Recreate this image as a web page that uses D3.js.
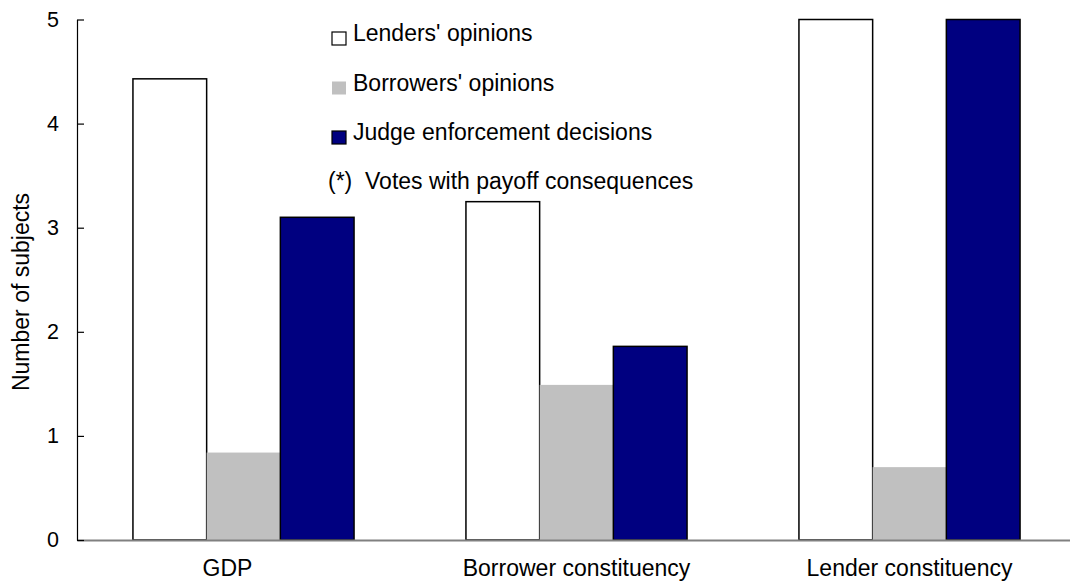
<!DOCTYPE html>
<html>
<head>
<meta charset="utf-8">
<script src="https://cdn.jsdelivr.net/npm/d3@7/dist/d3.min.js"></script>
<style>
  html, body { margin: 0; padding: 0; background: #fff; }
  svg { display: block; font-family: "Liberation Sans", Arial, sans-serif; }
</style>
</head>
<body>
<svg id="chart" width="1070" height="587"></svg>
<script>
// ---- data ----
const categories = ["GDP", "Borrower constituency", "Lender constituency"];
const categoryLabels = ["GDP\u00a0\u00a0\u00a0\u00a0\u00a0", "Borrower constituency", "Lender constituency"];
const seriesNames = ["Lenders' opinions", "Borrowers' opinions", "Judge enforcement decisions"];
const lendersOpinions = [4.43, 3.25, 5.0];
const borrowersOpinions = [0.84, 1.49, 0.70];
const judgeDecisions = [3.10, 1.86, 5.0];
const yTicks = [0, 1, 2, 3, 4, 5];
const noteText = "(*)  Votes with payoff consequences";
const yTitle = "Number of subjects";

const seriesValues = [lendersOpinions, borrowersOpinions, judgeDecisions];
const seriesFill = ["#ffffff", "#c0c0c0", "#000080"];
const seriesStroke = ["#000000", "none", "#000000"];

// ---- layout ----
const svg = d3.select("#chart");
const mLeft = 77, mRight = 1076, mTop = 19.5, mBottom = 540;
const fs = 23;

const x = d3.scaleBand().domain(categories).range([mLeft, mRight])
  .paddingInner(0.336).paddingOuter(0.168);
const xs = d3.scaleBand().domain(d3.range(seriesNames.length)).range([0, x.bandwidth()]).padding(0);
const y = d3.scaleLinear().domain([0, 5]).range([mBottom, mTop]);

// bars
const groups = svg.append("g").selectAll("g").data(categories).join("g")
  .attr("transform", d => `translate(${x(d)},0)`);
groups.selectAll("rect")
  .data((c, ci) => seriesValues.map((vals, si) => ({si, v: vals[ci]})))
  .join("rect")
  .attr("x", d => xs(d.si))
  .attr("y", d => y(d.v))
  .attr("width", xs.bandwidth())
  .attr("height", d => y(0) - y(d.v))
  .attr("fill", d => seriesFill[d.si])
  .attr("stroke", d => seriesStroke[d.si])
  .attr("stroke-width", 1.5);

// x axis
const xAxis = svg.append("g").attr("transform", `translate(0,${mBottom})`)
  .call(d3.axisBottom(x).tickSize(0).tickSizeOuter(0).tickPadding(20)
    .tickFormat((d, i) => categoryLabels[i]));
xAxis.select(".domain").attr("stroke", "#808080").attr("stroke-width", 2);
xAxis.selectAll("text").attr("font-size", fs).attr("fill", "#000")
  .attr("font-family", "Liberation Sans, Arial, sans-serif").style("white-space", "pre");

// y axis
const yAxis = svg.append("g").attr("transform", `translate(${mLeft},0)`)
  .call(d3.axisLeft(y).tickValues(yTicks).tickFormat(d3.format("d"))
    .tickSize(-7).tickSizeOuter(0).tickPadding(18));
yAxis.select(".domain").attr("stroke", "#000").attr("stroke-width", 1.2);
yAxis.selectAll(".tick line").attr("stroke", "#000").attr("stroke-width", 1.2);
yAxis.selectAll("text").attr("font-size", 21.5).attr("fill", "#000")
  .attr("font-family", "Liberation Sans, Arial, sans-serif");

// y title
svg.append("text")
  .attr("transform", `translate(29,292) rotate(-90)`)
  .attr("text-anchor", "middle")
  .attr("font-size", fs)
  .text(yTitle);

// legend
const legendX = 332, legendY0 = 41, legendStep = 49.5;
const leg = svg.append("g");
seriesNames.forEach((name, i) => {
  const by = legendY0 + i * legendStep;
  leg.append("rect")
    .attr("x", legendX).attr("y", by - 9).attr("width", 14).attr("height", 13)
    .attr("fill", seriesFill[i])
    .attr("stroke", seriesStroke[i]).attr("stroke-width", 1.2);
  leg.append("text")
    .attr("x", legendX + 21).attr("y", by)
    .attr("font-size", fs)
    .text(name);
});
svg.append("text")
  .attr("x", 328).attr("y", 189)
  .attr("font-size", fs)
  .style("white-space", "pre")
  .text(noteText);
</script>
</body>
</html>
